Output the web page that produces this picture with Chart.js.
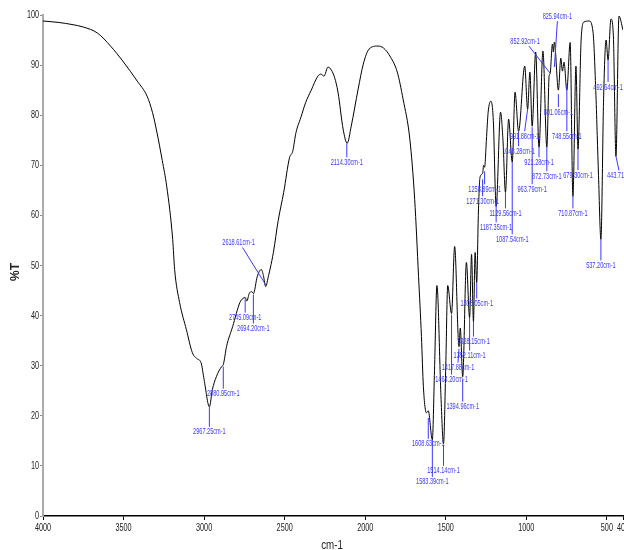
<!DOCTYPE html>
<html>
<head>
<meta charset="utf-8">
<script src="https://cdn.jsdelivr.net/npm/chart.js@4.4.1/dist/chart.umd.min.js"></script>
<style>
  html, body { margin: 0; padding: 0; background: #fff; }
  canvas { display: block; }
</style>
</head>
<body>
<canvas id="irChart" width="624" height="550"></canvas>
<script>
// wavenumber (cm-1) and transmittance (%T)
const wavenumbers = [
  4000, 3900, 3820, 3750, 3662, 3581, 3500, 3415, 3354, 3320, 3293, 3260, 3232, 3195, 3183,
  3152, 3110, 3073, 3044, 3019, 3000, 2967, 2949, 2924, 2892, 2881, 2861, 2823, 2778, 2760,
  2745, 2735, 2720, 2705, 2694, 2670, 2645, 2632, 2618, 2600, 2589, 2570, 2540, 2506, 2470,
  2450, 2430, 2400, 2370, 2335, 2294, 2275, 2256, 2231, 2210, 2190, 2169, 2137, 2112, 2087,
  2044, 2012, 1976, 1922, 1886, 1843, 1801, 1765, 1723, 1693, 1669, 1651, 1639, 1620, 1608.6,
  1583.4, 1570, 1555, 1530, 1514.1, 1500, 1488, 1464.2, 1445, 1417.9, 1410, 1395, 1372, 1352.1,
  1340, 1328.2, 1318, 1308, 1298, 1288, 1271.3, 1265, 1258.9, 1248, 1237, 1220, 1205, 1187.4,
  1160, 1145, 1129.6, 1110, 1087.5, 1070, 1048.3, 1010, 991.9, 978, 963.8, 942, 921.3, 897,
  872.7, 858, 852.9, 838, 832, 826, 801, 786, 776, 766, 748.6, 728, 710.9, 692, 679.3, 660,
  642, 611, 586, 568, 560, 552, 537.2, 520, 505, 492.6, 475, 460, 443.7, 425, 400
];
const transmittance = [
  98.8, 98.5, 98.1, 97.6, 96.4, 93.8, 90.6, 86.8, 83.8, 80.5, 76.6, 71, 65.8, 55.2, 49.2,
  42.6, 37.2, 32.6, 31.4, 30.6, 27.2, 21.8, 25.2, 27.8, 29.8, 30.2, 33.8, 37.8, 42.6, 43.4,
  43.6, 42.9, 44.4, 44.8, 44.4, 47.8, 49.2, 48, 45.8, 48, 49.5, 52.6, 59, 64.6, 71.5,
  72.8, 76.5, 79.5, 82.5, 85, 87.8, 88.2, 87.8, 89.6, 89, 87.5, 84.6, 77.2, 74.4, 77.8,
  85.2, 90.2, 93.2, 93.8, 93.4, 91.6, 88.6, 83.2, 75.2, 63.2, 47.8, 35.8, 25.8, 20.6, 21,
  15.2, 29, 46, 24, 14.4, 30, 46, 40.4, 53.8, 33.8, 37.5, 27.8, 50.6, 39.6,
  52.2, 38.8, 52.6, 46.6, 60, 67.5, 68.4, 70, 69.6, 75, 80.6, 82.8, 79, 61.8,
  80.6, 75, 64.6, 79.2, 70.6, 84.6, 76.8, 89.8, 81.2, 88.6, 77.8, 92.6, 73.6, 92.8,
  73.6, 88, 88.2, 94.2, 92.6, 94.6, 85, 91.4, 88.8, 90.6, 85, 94.5, 63.8, 89.8, 73.2, 95,
  98.6, 98.8, 96.6, 84, 76, 68, 55.2, 84, 95, 91, 99.2, 96, 71.8, 99.8, 97
];

const xTicks = [4000, 3500, 3000, 2500, 2000, 1500, 1000, 500, 400];
const yTicks = [0, 10, 20, 30, 40, 50, 60, 70, 80, 90, 100];

// peak labels: text, wavenumber and %T of the leader tip
const peakTexts = [
  '2967.25cm-1', '2880.95cm-1', '2745.09cm-1', '2694.20cm-1', '2618.61cm-1', '2114.30cm-1',
  '1608.63cm-1', '1583.39cm-1', '1514.14cm-1', '1464.20cm-1', '1417.88cm-1', '1394.96cm-1',
  '1352.11cm-1', '1328.15cm-1', '1308.05cm-1', '1271.30cm-1', '1258.89cm-1', '1187.35cm-1',
  '1129.56cm-1', '1087.54cm-1', '1048.28cm-1', '991.88cm-1', '963.79cm-1', '921.28cm-1',
  '872.73cm-1', '852.92cm-1', '825.94cm-1', '801.06cm-1', '748.55cm-1', '710.87cm-1',
  '679.30cm-1', '537.20cm-1', '492.64cm-1', '443.71cm'
];
const peakWn = [
  2967.25, 2880.95, 2745.09, 2694.20, 2618.61, 2114.30,
  1608.63, 1583.39, 1514.14, 1464.20, 1417.88, 1394.96,
  1352.11, 1328.15, 1308.05, 1271.30, 1258.89, 1187.35,
  1129.56, 1087.54, 1048.28, 991.88, 963.79, 921.28,
  872.73, 852.92, 825.94, 801.06, 748.55, 710.87,
  679.30, 537.20, 492.64, 443.71
];
const peakT = [
  21.8, 29.8, 43.2, 44.2, 46.2, 74.4,
  19.6, 15.2, 14.2, 40.2, 33.4, 27.2,
  39.6, 38.8, 46.6, 67.2, 68.8, 63.2,
  64.6, 70.6, 76.8, 81.2, 77.6, 73.6,
  73.6, 88.4, 89.6, 84.2, 86.2, 63.8,
  73.2, 55.2, 91.2, 71.8
];
// label offsets from the leader tip, in px
const labelOffsets = [
  [0, 25], [0, 27], [0, 18], [0, 34], [-27, -42], [0, 19],
  [0, 26], [0, 42], [0, 26], [0, 65], [-1, 19], [0, 27],
  [0, 38], [0, 20], [0, 21], [0, 22], [0, 18], [0, 28],
  [0, 21], [0, 77], [0, 20], [-3, 27], [0, 62], [0, 15],
  [0, 29], [-25, -32], [3, -51], [0, 18], [0, 52], [0, 17],
  [0, 26], [0, 26], [0, 28], [3, 19]
];

const BLUE = 'rgb(55, 55, 255)';

function squeezeText(ctx, str, x, y, font, sx, align, color) {
  ctx.save();
  ctx.font = font;
  ctx.fillStyle = color;
  ctx.textAlign = align;
  ctx.textBaseline = 'middle';
  ctx.translate(x, y);
  ctx.scale(sx, 1);
  ctx.fillText(str, 0, 0);
  ctx.restore();
}

const spectrumLabels = {
  id: 'spectrumLabels',
  afterDraw(chart) {
    const { ctx } = chart;
    const xs = chart.scales.x;
    const ys = chart.scales.y;

    // tick labels
    yTicks.forEach(v => {
      squeezeText(ctx, String(v), 39, ys.getPixelForValue(v), '11px "Liberation Sans"', 0.66, 'right', '#222');
    });
    xTicks.forEach(v => {
      squeezeText(ctx, String(v), xs.getPixelForValue(v), 528, '11px "Liberation Sans"', 0.66, 'center', '#222');
    });

    // axis titles
    squeezeText(ctx, 'cm-1', 332, 545, '13px "Liberation Sans"', 0.75, 'center', '#222');
    ctx.save();
    ctx.translate(16, 272);
    ctx.rotate(-Math.PI / 2);
    ctx.font = 'bold 12px "Liberation Sans"';
    ctx.fillStyle = '#222';
    ctx.textAlign = 'center';
    ctx.textBaseline = 'middle';
    ctx.fillText('%T', 0, 0);
    ctx.restore();

    // peak annotations
    peakTexts.forEach((txt, i) => {
      const px = xs.getPixelForValue(peakWn[i]);
      const py = ys.getPixelForValue(peakT[i]);
      const [dx, dy] = labelOffsets[i];
      const tx = px + dx;
      const ty = py + dy;
      ctx.save();
      ctx.strokeStyle = BLUE;
      ctx.lineWidth = 1;
      ctx.beginPath();
      ctx.moveTo(px, py);
      if (dy > 0) {
        ctx.lineTo(tx, ty - 5);
      } else {
        ctx.lineTo(tx + (dx < -20 ? 4 : 0), ty + 5);
      }
      ctx.stroke();
      ctx.restore();
      const align = txt === '443.71cm' ? 'left' : 'center';
      squeezeText(ctx, txt, align === 'left' ? tx - 12 : tx, ty, '9px "Liberation Sans"', 0.62, align, BLUE);
    });
  },
};

const points = wavenumbers.map((w, i) => ({ x: w, y: transmittance[i] }));

new Chart(document.getElementById('irChart'), {
  type: 'line',
  data: {
    datasets: [{
      data: points,
      borderColor: '#000',
      borderWidth: 1,
      pointRadius: 0,
      fill: false,
      cubicInterpolationMode: 'monotone',
    }],
  },
  options: {
    responsive: false,
    animation: false,
    devicePixelRatio: 1,
    layout: { padding: { top: 15, right: 1, left: 0, bottom: 0 } },
    plugins: {
      legend: { display: false },
      tooltip: { enabled: false },
    },
    events: [],
    scales: {
      x: {
        type: 'linear',
        reverse: true,
        min: 400,
        max: 4000,
        afterBuildTicks: (scale) => { scale.ticks = xTicks.map(v => ({ value: v })); },
        afterFit: (scale) => { scale.height = 34; },
        ticks: { display: false },
        grid: { drawOnChartArea: false, drawTicks: true, tickLength: 4, color: '#000' },
        border: { color: '#000', width: 1.5 },
      },
      y: {
        min: 0,
        max: 100,
        afterBuildTicks: (scale) => { scale.ticks = yTicks.map(v => ({ value: v })); },
        afterFit: (scale) => { scale.width = 43; },
        ticks: { display: false },
        grid: { drawOnChartArea: false, drawTicks: true, tickLength: 3, color: '#888' },
        border: { color: '#aaa', width: 2 },
      },
    },
  },
  plugins: [spectrumLabels],
});
</script>
</body>
</html>
